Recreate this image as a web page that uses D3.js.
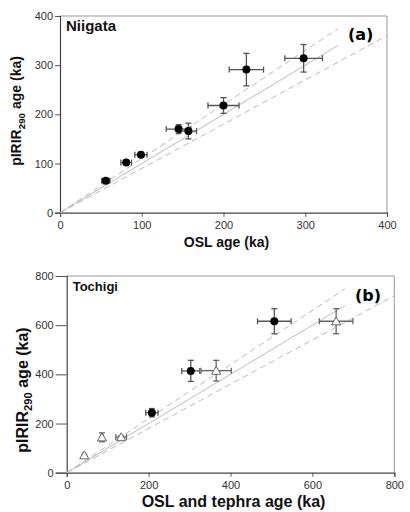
<!DOCTYPE html>
<html>
<head>
<meta charset="utf-8">
<script src="https://cdn.jsdelivr.net/npm/d3@7"></script>
<style>
  body { margin: 0; background: #fff; }
  text { font-family: "Liberation Sans", Arial, sans-serif; }
</style>
</head>
<body>
<div id="chart"></div>
<script>
// Panel (a) Niigata: OSL age vs pIRIR290 age (ka)
const niigataOsl = [56, 81, 99, 145, 157, 200, 228, 298];
const niigataOslErr = [5, 6.5, 7.5, 15, 10, 19, 21, 23];
const niigataIr = [65, 102, 118, 170, 166, 218, 291, 314];
const niigataIrErr = [3, 3, 3, 9, 16, 16, 33, 28];

// Panel (b) Tochigi: OSL points (circles)
const tochigiOsl = [208, 303, 507];
const tochigiOslErr = [15, 22, 41];
const tochigiOslIr = [244, 414, 616];
const tochigiOslIrErr = [17, 43, 51];

// Panel (b) Tochigi: tephra points (triangles)
const tochigiTephra = [43, 86, 133, 365, 658];
const tochigiTephraErr = [3, 3, 13, 37, 41];
const tochigiTephraIr = [71, 144, 145, 415, 616];
const tochigiTephraIrErr = [3, 18, 5, 42, 51];

const ticksA = [0, 100, 200, 300, 400];
const ticksB = [0, 200, 400, 600, 800];

const w = 410;
const h = 512;

const svg = d3.select('#chart')
  .append('svg')
  .attr('width', w)
  .attr('height', h);

svg.append('rect').attr('width', w).attr('height', h).attr('fill', '#fff');

const zip = (xs, xe, ys, ye) => xs.map((x, i) => ({ x, xe: xe[i], y: ys[i], ye: ye[i] }));

function drawPanel(p) {
  const g = svg.append('g');

  const x = d3.scaleLinear().domain([0, p.max]).range([p.left, p.right]);
  const y = d3.scaleLinear().domain([0, p.max]).range([p.bottom, p.top]);

  // frame, top and right lighter
  g.append('line').attr('x1', p.left).attr('x2', p.right).attr('y1', p.top).attr('y2', p.top)
    .attr('stroke', '#999').attr('stroke-width', 1);
  g.append('line').attr('x1', p.right).attr('x2', p.right).attr('y1', p.top).attr('y2', p.bottom)
    .attr('stroke', '#999').attr('stroke-width', 1);

  // axes
  const xAxis = d3.axisBottom(x).tickValues(p.ticks).tickSize(4).tickPadding(5);
  const yAxis = d3.axisLeft(y).tickValues(p.ticks).tickSize(p.yTick).tickPadding(2);

  g.append('g')
    .attr('transform', `translate(0, ${p.bottom})`)
    .call(xAxis);
  g.append('g')
    .attr('transform', `translate(${p.left}, 0)`)
    .call(yAxis);

  g.selectAll('.domain').attr('stroke', '#444').attr('stroke-width', 1.2);
  g.selectAll('.tick line').attr('stroke', '#555');
  g.selectAll('.tick text')
    .attr('fill', '#333')
    .style('font-family', '"Liberation Sans", Arial, sans-serif')
    .style('font-size', '11px');

  // 1:1 line and +/-10% lines
  const ref = [
    { k: 1.0, end: p.max * 0.85, dash: null },
    { k: 1.1, end: p.max * 0.85, dash: '6,4' },
    { k: 0.9, end: p.max, dash: '6,4' }
  ];
  g.selectAll('.ref')
    .data(ref)
    .join('line')
    .attr('x1', x(0)).attr('y1', y(0))
    .attr('x2', d => x(d.end))
    .attr('y2', d => y(d.k * d.end))
    .attr('stroke', '#bbb')
    .attr('stroke-width', 1)
    .attr('stroke-dasharray', d => d.dash);

  // error bars
  const cap = 3;
  const drawErr = (pts, color) => {
    const eg = g.append('g').attr('stroke', color).attr('stroke-width', 1.3);
    pts.forEach(d => {
      eg.append('line').attr('x1', x(d.x - d.xe)).attr('x2', x(d.x + d.xe)).attr('y1', y(d.y)).attr('y2', y(d.y));
      eg.append('line').attr('x1', x(d.x - d.xe)).attr('x2', x(d.x - d.xe)).attr('y1', y(d.y) - cap).attr('y2', y(d.y) + cap);
      eg.append('line').attr('x1', x(d.x + d.xe)).attr('x2', x(d.x + d.xe)).attr('y1', y(d.y) - cap).attr('y2', y(d.y) + cap);
      eg.append('line').attr('x1', x(d.x)).attr('x2', x(d.x)).attr('y1', y(d.y - d.ye)).attr('y2', y(d.y + d.ye));
      eg.append('line').attr('x1', x(d.x) - cap).attr('x2', x(d.x) + cap).attr('y1', y(d.y - d.ye)).attr('y2', y(d.y - d.ye));
      eg.append('line').attr('x1', x(d.x) - cap).attr('x2', x(d.x) + cap).attr('y1', y(d.y + d.ye)).attr('y2', y(d.y + d.ye));
    });
  };

  drawErr(p.circles, '#555');
  if (p.triangles) drawErr(p.triangles, '#666');

  // markers
  g.selectAll('.dot')
    .data(p.circles)
    .join('circle')
    .attr('cx', d => x(d.x))
    .attr('cy', d => y(d.y))
    .attr('r', 4)
    .attr('fill', '#000');

  if (p.triangles) {
    g.selectAll('.tri')
      .data(p.triangles)
      .join('path')
      .attr('d', d3.symbol(d3.symbolTriangle).size(36))
      .attr('transform', d => `translate(${x(d.x)}, ${y(d.y) + 1})`)
      .attr('fill', '#fff')
      .attr('stroke', '#666')
      .attr('stroke-width', 1);
  }

  // labels
  g.append('text')
    .attr('x', p.left + 6)
    .attr('y', p.top + 15)
    .attr('font-weight', 'bold')
    .attr('font-size', p.siteSize)
    .attr('fill', '#111')
    .text(p.site);

  g.append('text')
    .attr('x', p.tagX)
    .attr('y', p.tagY)
    .style('font-family', '"DejaVu Sans", Verdana, sans-serif')
    .attr('font-weight', 'bold')
    .attr('font-size', 16)
    .attr('fill', '#000')
    .text(p.tag);

  g.append('text')
    .attr('x', (p.left + p.right) / 2 + 3)
    .attr('y', p.bottom + 34)
    .attr('text-anchor', 'middle')
    .attr('font-weight', 'bold')
    .attr('font-size', p.titleSize)
    .attr('fill', '#111')
    .text(p.xTitle);

  const yt = g.append('text')
    .attr('transform', `translate(${p.yTitleX}, ${p.yTitleY}) rotate(-90)`)
    .attr('text-anchor', 'middle')
    .attr('font-weight', 'bold')
    .attr('font-size', p.titleSize)
    .attr('fill', '#111');
  yt.append('tspan').text('pIRIR');
  yt.append('tspan').attr('font-size', p.titleSize * 0.7).attr('dy', 4).text('290');
  yt.append('tspan').attr('dy', -4).text(' age (ka)');
}

drawPanel({
  max: 400, ticks: ticksA,
  left: 60, right: 387, top: 16, bottom: 212.7, yTick: 5,
  circles: zip(niigataOsl, niigataOslErr, niigataIr, niigataIrErr),
  site: 'Niigata', siteSize: 15,
  tag: '(a)', tagX: 348, tagY: 40,
  xTitle: 'OSL age (ka)', titleSize: 14,
  yTitleX: 21, yTitleY: 111
});

drawPanel({
  max: 800, ticks: ticksB,
  left: 66.7, right: 394.3, top: 276, bottom: 472.7, yTick: 11,
  circles: zip(tochigiOsl, tochigiOslErr, tochigiOslIr, tochigiOslIrErr),
  triangles: zip(tochigiTephra, tochigiTephraErr, tochigiTephraIr, tochigiTephraIrErr),
  site: 'Tochigi', siteSize: 13,
  tag: '(b)', tagX: 355, tagY: 301,
  xTitle: 'OSL and tephra age (ka)', titleSize: 16,
  yTitleX: 28, yTitleY: 390
});
</script>
</body>
</html>
